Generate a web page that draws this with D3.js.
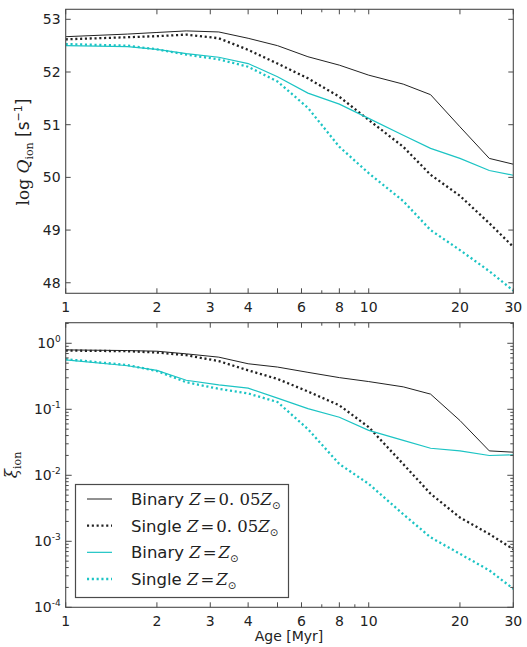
<!DOCTYPE html>
<html><head><meta charset="utf-8">
<script src="https://cdn.jsdelivr.net/npm/d3@7"></script>
<style>body{margin:0;background:#fff}svg{display:block}</style>
</head><body>
<svg id="c" width="527" height="647"></svg>
<script>
const ages = [1, 1.6, 2, 2.5, 3.2, 4, 5, 6.3, 8, 10, 13, 16, 20, 25, 30];
// log Q_ion [s^-1]
const qBinaryLow  = [52.67,52.72,52.75,52.78,52.76,52.64,52.50,52.29,52.13,51.94,51.77,51.57,50.96,50.36,50.25];
const qSingleLow  = [52.62,52.66,52.68,52.71,52.64,52.42,52.16,51.88,51.53,51.09,50.58,50.05,49.65,49.13,48.68];
const qBinarySun  = [52.50,52.48,52.43,52.35,52.28,52.16,51.91,51.60,51.39,51.12,50.80,50.55,50.36,50.13,50.04];
const qSingleSun  = [52.53,52.50,52.43,52.33,52.24,52.10,51.82,51.32,50.58,50.08,49.55,49.00,48.62,48.22,47.85];
// log10 xi_ion
const xBinaryLow  = [-0.10,-0.11,-0.12,-0.16,-0.21,-0.31,-0.36,-0.44,-0.52,-0.58,-0.66,-0.77,-1.17,-1.63,-1.65];
const xSingleLow  = [-0.11,-0.12,-0.14,-0.18,-0.27,-0.41,-0.54,-0.73,-0.94,-1.27,-1.83,-2.28,-2.64,-2.89,-3.12];
const xBinarySun  = [-0.25,-0.34,-0.41,-0.56,-0.63,-0.68,-0.83,-0.99,-1.12,-1.32,-1.47,-1.59,-1.63,-1.70,-1.69];
const xSingleSun  = [-0.24,-0.33,-0.42,-0.59,-0.69,-0.76,-0.89,-1.30,-1.83,-2.13,-2.59,-2.94,-3.19,-3.44,-3.72];

const xTickLabels = [1,2,3,4,6,8,10,20,30];
const xMinorTicks = [7,9];
const qTicks = [48,49,50,51,52,53];
const xiTickExps = [0,-1,-2,-3,-4];

const seriesNames = ["Binary","Single","Binary","Single"];
const seriesZ = ["0. 05","0. 05","",""];

const svg = d3.select("#c");
const L = 65.7, R = 513.3;
const x = d3.scaleLog().domain([1,30]).range([L,R]);
const yTop = d3.scaleLinear().domain([47.8,53.19]).range([293.3,9.3]);
const yBot = d3.scaleLog().domain([1e-4, Math.pow(10,0.312)]).range([607.3,322.7]);

const frame = "#4a4a4a", txt = "#222";
const black = "#222", cyan = "#1cc4c4";
const styles = [
  {c:black, w:1, d:null},
  {c:black, w:2.3, d:"2.1,2.7"},
  {c:cyan, w:1.2, d:null},
  {c:cyan, w:2.3, d:"2.1,2.7"}
];

function panel(y, series, yt) {
  const [yb, ytop] = y.range();
  const g = svg.append("g");
  const clipId = "clip" + Math.round(ytop);
  svg.append("clipPath").attr("id", clipId).append("rect")
    .attr("x", L).attr("y", ytop).attr("width", R-L).attr("height", yb-ytop);
  const line = d3.line().x((d,i)=>x(ages[i])).y(d=>y(d));
  series.forEach((s,k)=>{
    g.append("path").datum(s).attr("d", line).attr("fill","none")
      .attr("stroke", styles[k].c).attr("stroke-width", styles[k].w)
      .attr("stroke-dasharray", styles[k].d).attr("clip-path", `url(#${clipId})`);
  });
  g.append("rect").attr("x",L).attr("y",ytop).attr("width",R-L).attr("height",yb-ytop)
    .attr("fill","none").attr("stroke",frame).attr("stroke-width",1.1);
  const tk = g.append("g").attr("stroke",frame).attr("stroke-width",1);
  xTickLabels.concat([5]).forEach(v=>{
    tk.append("line").attr("x1",x(v)).attr("x2",x(v)).attr("y1",yb).attr("y2",yb-5);
    tk.append("line").attr("x1",x(v)).attr("x2",x(v)).attr("y1",ytop).attr("y2",ytop+5);
  });
  xMinorTicks.forEach(v=>{
    tk.append("line").attr("x1",x(v)).attr("x2",x(v)).attr("y1",yb).attr("y2",yb-3);
    tk.append("line").attr("x1",x(v)).attr("x2",x(v)).attr("y1",ytop).attr("y2",ytop+3);
  });
  xTickLabels.forEach(v=>{
    g.append("text").attr("x",x(v)).attr("y",yb+19).attr("text-anchor","middle")
      .attr("font-family","DejaVu Sans").attr("font-size",14).attr("fill",txt).text(v);
  });
  yt(g, tk);
}

panel(yTop, [qBinaryLow,qSingleLow,qBinarySun,qSingleSun], (g,tk)=>{
  qTicks.forEach(v=>{
    tk.append("line").attr("x1",L).attr("x2",L+5).attr("y1",yTop(v)).attr("y2",yTop(v));
    tk.append("line").attr("x1",R).attr("x2",R-5).attr("y1",yTop(v)).attr("y2",yTop(v));
    g.append("text").attr("x",L-5).attr("y",yTop(v)+5).attr("text-anchor","end")
      .attr("font-family","DejaVu Sans").attr("font-size",14).attr("fill",txt).text(v);
  });
});

panel(yBot, [xBinaryLow,xSingleLow,xBinarySun,xSingleSun].map(a=>a.map(v=>Math.pow(10,v))), (g,tk)=>{
  xiTickExps.forEach(e=>{
    const v = Math.pow(10,e);
    tk.append("line").attr("x1",L).attr("x2",L+6).attr("y1",yBot(v)).attr("y2",yBot(v));
    tk.append("line").attr("x1",R).attr("x2",R-6).attr("y1",yBot(v)).attr("y2",yBot(v));
    const t = g.append("text").attr("x",L-5).attr("y",yBot(v)+5).attr("text-anchor","end")
      .attr("font-family","DejaVu Sans").attr("font-size",14).attr("fill",txt);
    t.append("tspan").text("10");
    t.append("tspan").attr("dy",-6).attr("font-size",9).text(e);
    for (let m=2;m<=9;m++){
      const mv = m*v;
      if (mv < yBot.domain()[1]) {
        tk.append("line").attr("x1",L).attr("x2",L+3).attr("y1",yBot(mv)).attr("y2",yBot(mv));
        tk.append("line").attr("x1",R).attr("x2",R-3).attr("y1",yBot(mv)).attr("y2",yBot(mv));
      }
    }
  });
});

// y label top
const yl = svg.append("text").attr("transform","translate(29,152) rotate(-90)")
  .attr("text-anchor","middle").attr("fill",txt).attr("font-size",17);
yl.append("tspan").attr("font-family","DejaVu Serif").text("log ");
yl.append("tspan").attr("font-family","DejaVu Serif").attr("font-style","italic").text("Q");
yl.append("tspan").attr("font-family","DejaVu Serif").attr("font-size",11).attr("dy",4).text("ion");
yl.append("tspan").attr("font-family","DejaVu Sans").attr("dy",-4).text(" [s");
yl.append("tspan").attr("font-family","DejaVu Sans").attr("font-size",11).attr("dy",-7).text("−1");
yl.append("tspan").attr("font-family","DejaVu Sans").attr("dy",7).text("]");

// y label bottom
const yl2 = svg.append("text").attr("transform","translate(17,465) rotate(-90)")
  .attr("text-anchor","middle").attr("fill",txt).attr("font-size",17).attr("font-family","DejaVu Serif");
yl2.append("tspan").attr("font-style","italic").text("ξ");
yl2.append("tspan").attr("font-size",11).attr("dy",4).text("ion");

// x label
svg.append("text").attr("x",289).attr("y",641).attr("text-anchor","middle")
  .attr("font-family","DejaVu Sans").attr("font-size",14).attr("fill",txt).text("Age [Myr]");

// legend
const lg = svg.append("g");
lg.append("rect").attr("x",75.5).attr("y",484.5).attr("width",213).attr("height",113)
  .attr("fill","#fff").attr("stroke",frame).attr("stroke-width",1.2);
const ly = d3.scalePoint().domain(d3.range(4)).range([499,579]);
seriesNames.forEach((n,k)=>{
  const yy = ly(k);
  lg.append("line").attr("x1",87).attr("x2",112).attr("y1",yy).attr("y2",yy)
    .attr("stroke",styles[k].c).attr("stroke-width",styles[k].w).attr("stroke-dasharray",styles[k].d);
  const t = lg.append("text").attr("x",131).attr("y",yy+6).attr("fill",txt).attr("font-size",16.5);
  t.append("tspan").attr("font-family","DejaVu Sans").text(n + " ");
  t.append("tspan").attr("font-family","DejaVu Serif").attr("font-style","italic").text("Z");
  t.append("tspan").attr("font-family","DejaVu Serif").attr("dx",2).text("=");
  if (seriesZ[k]) t.append("tspan").attr("font-family","DejaVu Serif").attr("dx",2).text(seriesZ[k]);
  t.append("tspan").attr("font-family","DejaVu Serif").attr("font-style","italic").attr("dx",seriesZ[k]?0:2).text("Z");
  t.append("tspan").attr("font-family","DejaVu Sans").attr("font-size",10).attr("dy",4).text("⊙");
});
</script>
</body></html>
